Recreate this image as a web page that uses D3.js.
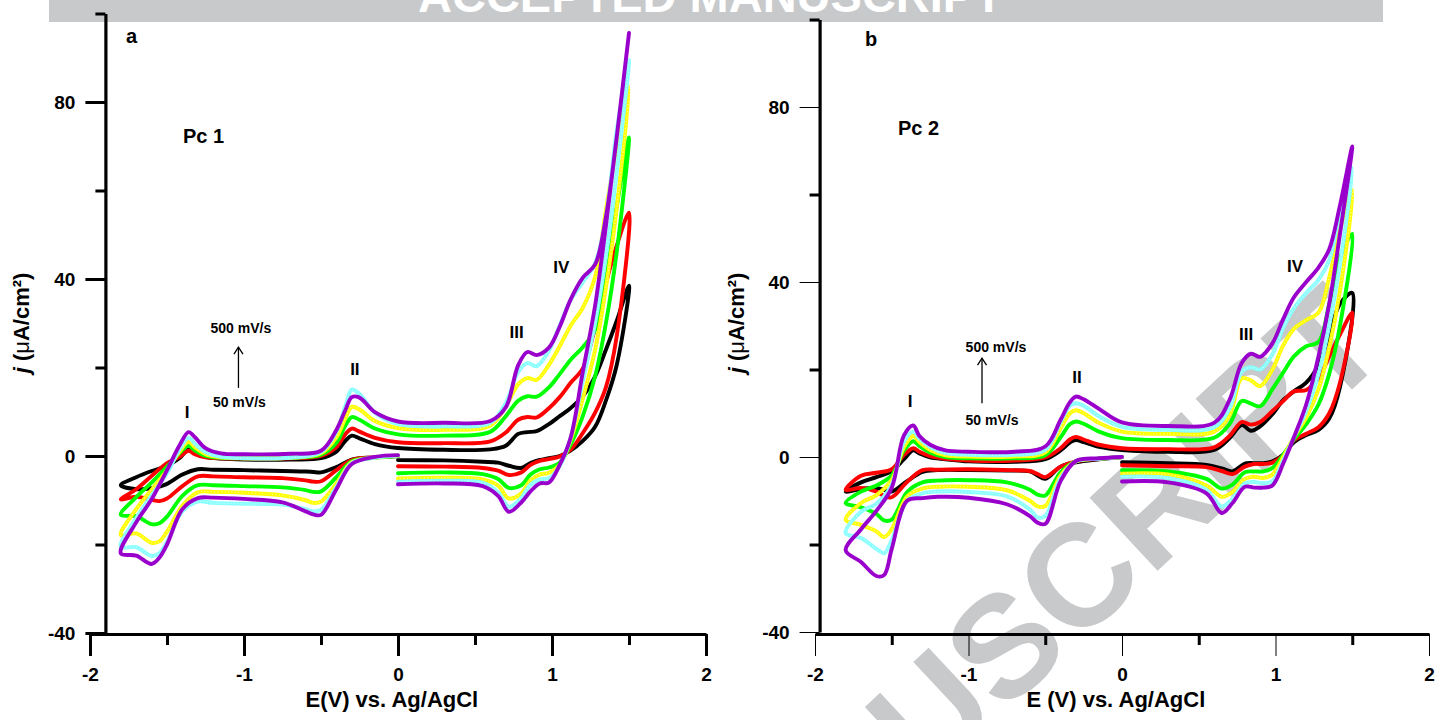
<!DOCTYPE html>
<html>
<head>
<meta charset="utf-8">
<script src="https://cdn.jsdelivr.net/npm/d3@7"></script>
<style>
  body { margin: 0; background: #fff; }
  svg text { font-family: "Liberation Sans", Arial, sans-serif; font-weight: bold; fill: #000; }
</style>
</head>
<body>
<div id="chart"></div>
<script>
// potential grid (V): 0 -> -1.8, then -1.7 -> +1.5, then back 1.42 -> 0
var NEG_OUT = [0, -0.15, -0.3, -0.4, -0.5, -0.55, -0.6, -0.75, -1.0, -1.2, -1.3, -1.4, -1.5, -1.55, -1.6, -1.7, -1.8];
var SWEEP_UP = [-1.7, -1.6, -1.5, -1.42, -1.36, -1.32, -1.25, -1.15, -1.0, -0.7, -0.5, -0.4, -0.34, -0.3, -0.25, -0.15, 0,
  0.3, 0.6, 0.7, 0.78, 0.84, 0.9, 0.98, 1.05, 1.12, 1.2, 1.28, 1.35, 1.42, 1.5];
var POS_BACK = [1.42, 1.35, 1.28, 1.2, 1.12, 1.05, 0.98, 0.92, 0.86, 0.8, 0.72, 0.65, 0.55, 0.3, 0];

// scan rates 50 -> 500 mV/s, one colour each
var SERIES_COLORS = ["#000000", "#ff0000", "#00ff00", "#ffff00", "#88ffff", "#9900cc"];
var TEXTURED = [false, false, false, true, true, false];

// Pc 1 current density (uA/cm2), [out, up, back]
var pc1Black = [
  [0, -0.3, -0.8, -2.5, -3.7, -3.6, -3.5, -3.4, -3.2, -3.1, -3.0, -4.2, -6.3, -6.9, -7.3, -7.5, -6.6],
  [-4.8, -3.4, -2.2, -0.5, 1.5, 0.9, -0.2, -0.6, -0.8, -0.8, -0.5, 1.0, 3.5, 4.6, 4.0, 2.7, 1.8, 1.4, 1.5, 2.3, 5.0, 5.4, 5.6, 7.2, 9.0, 10.8, 13.5, 18.0, 24.0, 30.5, 38.5],
  [20.5, 12.5, 6.6, 3.4, 1.2, 0.0, -0.5, -0.9, -1.6, -2.7, -2.2, -1.5, -1.3, -1.0, -0.9]];
var pc1Red = [
  [0, -0.3, -0.9, -3.2, -5.7, -5.8, -5.5, -5.0, -4.8, -4.6, -4.6, -6.8, -9.6, -10.2, -9.9, -9.2, -9.8],
  [-7.5, -4.5, -1.6, -0.2, 1.2, 0.4, -0.3, -0.5, -0.6, -0.5, 0.0, 2.0, 5.0, 6.2, 5.5, 4.1, 3.1, 2.9, 3.3, 5.3, 8.2, 8.8, 8.7, 10.8, 13.3, 16.5, 19.8, 29.0, 39.0, 47.5, 55.0],
  [27.0, 15.5, 9.8, 5.2, 1.4, -0.1, -0.7, -1.1, -2.0, -3.7, -4.3, -3.3, -2.7, -2.4, -2.3]];
var pc1Green = [
  [0, -0.4, -1.2, -4.8, -8.0, -8.1, -7.7, -7.1, -6.8, -6.6, -6.6, -9.0, -13.7, -15.2, -15.4, -13.6, -13.3],
  [-9.3, -6.0, -2.4, 0.6, 2.3, 1.3, 0.0, -0.4, -0.5, -0.4, 0.3, 3.0, 7.0, 8.8, 8.2, 6.2, 4.9, 4.6, 5.5, 9.0, 12.5, 13.5, 13.4, 15.5, 18.5, 21.7, 24.6, 28.5, 40.0, 56.3, 72.0],
  [46.0, 30.0, 18.0, 9.0, 2.5, -1.5, -2.6, -3.0, -4.2, -6.6, -7.2, -5.2, -4.1, -3.7, -3.9]];
var pc1Yellow = [
  [0.1, -0.4, -1.4, -6.2, -10.3, -10.6, -10.0, -8.9, -8.3, -8.1, -8.2, -11.2, -17.1, -19.3, -19.6, -17.5, -17.9],
  [-12.0, -7.6, -3.2, 0.9, 3.2, 2.0, 0.4, -0.3, -0.5, -0.4, 0.6, 4.2, 8.7, 11.1, 10.5, 7.9, 6.3, 5.9, 6.9, 11.2, 16.2, 17.6, 17.2, 20.6, 24.8, 29.4, 33.5, 40.5, 55.5, 69.8, 83.4],
  [56.0, 38.0, 24.0, 13.0, 3.5, -2.0, -3.8, -4.2, -5.5, -8.5, -9.6, -6.7, -5.3, -4.9, -5.1]];
var pc1Cyan = [
  [0.1, -0.4, -1.6, -7.0, -12.2, -12.5, -12.0, -11.0, -10.8, -10.6, -10.3, -12.5, -19.4, -22.0, -22.6, -20.6, -20.5],
  [-14.0, -8.9, -3.9, 1.4, 4.1, 2.8, 0.9, -0.2, -0.5, -0.4, 0.9, 5.5, 11.5, 15.0, 14.0, 9.8, 7.2, 6.7, 7.5, 12.0, 19.0, 21.0, 20.3, 23.8, 29.5, 35.2, 39.3, 43.5, 54.0, 73.5, 89.5],
  [64.0, 45.0, 30.0, 17.0, 4.0, -2.3, -5.0, -5.3, -6.5, -9.5, -11.5, -8.2, -6.0, -5.6, -5.8]];
var pc1Purple = [
  [0.2, -0.2, -1.8, -7.5, -13.3, -13.2, -12.5, -10.5, -9.7, -9.4, -9.5, -12.0, -20.0, -23.0, -24.4, -22.5, -22.0],
  [-15.0, -9.8, -3.2, 2.3, 5.4, 4.3, 1.8, 0.6, 0.4, 0.5, 1.2, 5.9, 10.5, 13.3, 13.2, 9.9, 7.8, 7.5, 7.9, 11.0, 20.5, 23.5, 22.8, 24.5, 29.2, 35.3, 40.3, 43.3, 54.0, 72.0, 95.6],
  [72.0, 52.0, 34.0, 19.0, 4.0, -2.0, -6.0, -6.2, -8.0, -10.5, -12.6, -9.0, -6.8, -6.2, -6.4]];

// Pc 2
var pc2Black = [
  [0, -0.5, -1.2, -2.2, -5.0, -4.2, -3.3, -3.1, -3.0, -3.0, -3.4, -5.5, -7.9, -7.5, -7.1, -7.3, -7.9],
  [-5.8, -4.6, -3.2, -0.5, 1.5, 0.8, -0.1, -0.5, -1.0, -1.1, -0.5, 1.5, 3.3, 3.9, 3.4, 2.3, 1.6, 1.2, 1.6, 4.3, 7.3, 6.0, 7.0, 9.8, 13.0, 15.0, 17.0, 21.0, 28.0, 35.0, 37.5],
  [16.0, 8.8, 6.2, 5.0, 3.4, 0.5, -1.0, -1.4, -1.4, -1.5, -3.3, -2.6, -1.8, -1.4, -1.2]];
var pc2Red = [
  [0, -0.4, -1.0, -2.2, -4.6, -3.9, -3.2, -3.0, -2.8, -2.9, -3.0, -5.7, -9.2, -8.9, -7.9, -7.1, -7.5],
  [-4.3, -3.6, -2.8, 0.5, 2.0, 1.2, 0.2, -0.4, -0.8, -0.8, -0.1, 2.0, 4.0, 4.6, 4.0, 2.8, 2.0, 1.8, 2.2, 4.8, 8.0, 7.4, 8.0, 10.5, 12.8, 15.0, 15.3, 18.0, 23.0, 28.0, 33.0],
  [17.0, 10.0, 6.8, 5.3, 3.8, 0.4, -1.3, -1.6, -1.6, -2.2, -3.9, -3.2, -2.3, -2.1, -1.9]];
var pc2Green = [
  [0, -0.4, -1.0, -3.5, -8.8, -8.6, -7.5, -5.8, -5.3, -5.4, -5.8, -8.0, -14.3, -14.5, -13.0, -11.5, -10.5],
  [-7.9, -6.5, -4.2, 1.5, 3.6, 2.5, 1.0, 0.0, -0.3, -0.3, 0.4, 4.5, 7.5, 8.1, 7.6, 5.8, 4.3, 3.9, 4.4, 7.5, 12.8, 12.2, 11.6, 15.5, 19.3, 23.0, 25.3, 26.3, 35.0, 45.5, 51.0],
  [30.0, 19.0, 12.0, 7.5, 4.0, 0.5, -2.5, -3.3, -3.3, -3.5, -6.3, -7.2, -5.0, -3.3, -3.0]];
var pc2Yellow = [
  [0, -0.4, -1.0, -4.2, -11.2, -11.3, -10.0, -7.6, -6.8, -6.8, -7.2, -9.0, -16.5, -18.3, -17.0, -15.5, -14.4],
  [-10.5, -8.7, -5.2, 2.3, 4.8, 3.4, 1.6, 0.4, 0.1, 0.1, 1.0, 6.5, 10.0, 10.7, 10.0, 7.8, 5.8, 5.3, 5.8, 9.5, 18.0, 17.5, 16.2, 20.0, 25.5, 29.3, 31.3, 33.0, 41.0, 52.0, 61.0],
  [38.0, 25.0, 15.5, 9.0, 4.5, 0.0, -4.0, -4.8, -4.5, -5.0, -8.0, -9.1, -6.5, -4.0, -3.8]];
var pc2Cyan = [
  [0, -0.4, -1.0, -4.8, -13.5, -13.8, -12.0, -9.0, -8.0, -7.9, -8.3, -10.0, -19.0, -22.0, -21.0, -18.5, -17.4],
  [-12.5, -10.7, -6.3, 3.5, 5.8, 4.2, 2.3, 0.9, 0.5, 0.5, 1.6, 8.0, 11.7, 12.3, 11.7, 9.3, 6.9, 6.2, 6.8, 11.0, 19.5, 20.5, 20.0, 23.5, 29.5, 34.0, 37.5, 40.5, 45.0, 56.0, 66.0],
  [44.0, 30.0, 19.0, 10.5, 4.5, -0.8, -5.5, -6.0, -5.7, -6.0, -9.5, -11.3, -7.5, -4.8, -4.5]];
var pc2Purple = [
  [0, -0.3, -0.9, -5.5, -15.3, -15.0, -13.5, -10.8, -9.3, -9.1, -9.4, -10.0, -21.0, -27.0, -27.2, -24.0, -21.3],
  [-16.5, -12.3, -7.0, 5.0, 7.2, 4.8, 2.8, 1.5, 1.2, 1.2, 2.4, 8.5, 12.5, 13.8, 13.2, 11.0, 7.9, 7.1, 7.8, 13.0, 21.5, 23.6, 22.9, 26.0, 31.5, 36.5, 40.0, 43.3, 47.5, 57.5, 71.0],
  [51.0, 35.0, 23.0, 12.0, 4.5, -1.5, -6.5, -7.0, -7.0, -6.8, -10.5, -12.8, -8.3, -5.8, -5.6]];

// axis ticks
var X_MAJOR = [-2, -1, 0, 1, 2];
var X_MINOR = [-1.5, -0.5, 0.5, 1.5];
var Y_MAJOR = [-40, 0, 40, 80];
var Y_MINOR = [-20, 20, 60, 100];

var PEAK_NAMES = ["I", "II", "III", "IV"];

var svg = d3.select("#chart").append("svg")
    .attr("width", 1437)
    .attr("height", 720);

// journal watermark + banner (behind everything)
svg.append("rect")
    .attr("x", 49).attr("y", 0)
    .attr("width", 1334).attr("height", 22)
    .attr("fill", "#c8c9cb");
svg.append("text")
    .attr("x", 418).attr("y", 12)
    .attr("font-size", "47px")
    .style("fill", "#fff")
    .text("ACCEPTED MANUSCRIPT");
svg.append("text")
    .attr("transform", "translate(1392,352) rotate(-43)")
    .attr("text-anchor", "end")
    .attr("font-size", "145px")
    .style("fill", "#c8c9cb")
    .text("ACCEPTED MANUSCRIPT");

var panels = [
    {
        x: d3.scaleLinear().domain([-2, 2]).range([90, 706]),
        y: d3.scaleLinear().domain([-40, 100]).range([633, 13.5]),
        yAxisAt: -1.9, thinMajor: false,
        series: [pc1Black, pc1Red, pc1Green, pc1Yellow, pc1Cyan, pc1Purple],
        tag: "a", name: "Pc 1", xTitle: "E(V) vs. Ag/AgCl", xTitleAt: -0.04,
        tagPos: [-1.766, 93.3], namePos: [-1.396, 70.7],
        peaks: [[-1.37, 8.6], [-0.28, 18.3], [0.77, 26.7], [1.06, 41.4]],
        rate: { hi: [-1.02, 27.8], lo: [-1.03, 11.1], arrowE: -1.036, arrowJ: [15.4, 24.6] },
        yTitleX: 29
    },
    {
        x: d3.scaleLinear().domain([-2, 2]).range([815, 1429]),
        y: d3.scaleLinear().domain([-40, 100]).range([632, 19.5]),
        yAxisAt: -1.97, thinMajor: true,
        series: [pc2Black, pc2Red, pc2Green, pc2Yellow, pc2Cyan, pc2Purple],
        tag: "b", name: "Pc 2", xTitle: "E (V) vs. Ag/AgCl", xTitleAt: -0.04,
        tagPos: [-1.674, 93.9], namePos: [-1.459, 73.6],
        peaks: [[-1.381, 11.4], [-0.293, 16.9], [0.808, 26.7], [1.127, 42.3]],
        rate: { hi: [-0.821, 24], lo: [-0.847, 7.3], arrowE: -0.912, arrowJ: [12.3, 22.6] },
        yTitleX: 744
    }
];

panels.forEach(function (p) {
    var x = p.x, y = p.y;
    var line = d3.line()
        .x(function (d) { return x(d[0]); })
        .y(function (d) { return y(d[1]); })
        .curve(d3.curveCatmullRom.alpha(0.5));

    // CV curves
    p.series.forEach(function (s, k) {
        var pts = [];
        s[0].forEach(function (j, i) { pts.push([NEG_OUT[i], j]); });
        s[1].forEach(function (j, i) { pts.push([SWEEP_UP[i], j]); });
        s[2].forEach(function (j, i) { pts.push([POS_BACK[i], j]); });
        svg.append("path")
            .attr("d", line(pts))
            .attr("fill", "none")
            .attr("stroke", SERIES_COLORS[k])
            .attr("stroke-width", 3.9)
            .attr("stroke-linejoin", "round")
            .attr("stroke-linecap", "round");
        if (TEXTURED[k]) {
            svg.append("path")
                .attr("d", line(pts))
                .attr("fill", "none")
                .attr("stroke", "#fff")
                .attr("stroke-opacity", 0.55)
                .attr("stroke-width", 1.2)
                .attr("stroke-dasharray", "1.2,2.2");
        }
    });

    // y axis
    var ax = x(p.yAxisAt);
    var gy = svg.append("g").attr("transform", "translate(" + ax + ",0)");
    gy.call(d3.axisLeft(y).tickValues(Y_MAJOR).tickSize(20).tickSizeOuter(0).tickPadding(10)
        .tickFormat(function (d) { return String(d); }));
    gy.select(".domain").attr("stroke", "#000").attr("stroke-width", 3.2);
    gy.selectAll(".tick line").attr("stroke", "#000").attr("stroke-width", p.thinMajor ? 1 : 3);
    gy.selectAll(".tick text").attr("font-size", "19px").attr("font-family", null);
    var gy2 = svg.append("g").attr("transform", "translate(" + ax + ",0)");
    gy2.call(d3.axisLeft(y).tickValues(Y_MINOR).tickSize(10).tickSizeOuter(0).tickFormat(""));
    gy2.select(".domain").remove();
    gy2.selectAll(".tick line").attr("stroke", "#000").attr("stroke-width", 3);

    // x axis
    var gx = svg.append("g").attr("transform", "translate(0,634)");
    gx.call(d3.axisBottom(x).tickValues(X_MAJOR).tickSize(22).tickSizeOuter(0).tickPadding(12)
        .tickFormat(function (d) { return String(d); }));
    gx.select(".domain").attr("stroke", "#000").attr("stroke-width", 3.2);
    gx.selectAll(".tick line").attr("stroke", "#000").attr("stroke-width", p.thinMajor ? 1 : 3);
    gx.selectAll(".tick text").attr("font-size", "19px").attr("font-family", null);
    var gx2 = svg.append("g").attr("transform", "translate(0,634)");
    gx2.call(d3.axisBottom(x).tickValues(X_MINOR).tickSize(11).tickSizeOuter(0).tickFormat(""));
    gx2.select(".domain").remove();
    gx2.selectAll(".tick line").attr("stroke", "#000").attr("stroke-width", 3);

    // axis titles
    svg.append("text")
        .attr("x", x(p.xTitleAt)).attr("y", 707)
        .attr("text-anchor", "middle")
        .attr("font-size", "22px")
        .text(p.xTitle);
    var yt = svg.append("text")
        .attr("transform", "translate(" + p.yTitleX + ",323) rotate(-90)")
        .attr("text-anchor", "middle")
        .attr("font-size", "22px");
    yt.append("tspan").attr("font-style", "italic").text("j");
    yt.append("tspan").text(" (");
    yt.append("tspan").attr("font-weight", "normal").text("\u03bc");
    yt.append("tspan").text("A/cm\u00b2)");

    // panel letters and compound names
    svg.append("text")
        .attr("x", x(p.tagPos[0])).attr("y", y(p.tagPos[1]))
        .attr("font-size", "20px").text(p.tag);
    svg.append("text")
        .attr("x", x(p.namePos[0])).attr("y", y(p.namePos[1]))
        .attr("font-size", "20px").text(p.name);

    // peak labels
    p.peaks.forEach(function (pk, i) {
        svg.append("text")
            .attr("x", x(pk[0])).attr("y", y(pk[1]))
            .attr("text-anchor", "middle")
            .attr("font-size", "17px")
            .text(PEAK_NAMES[i]);
    });

    // scan-rate arrow
    svg.append("text")
        .attr("x", x(p.rate.hi[0])).attr("y", y(p.rate.hi[1]))
        .attr("text-anchor", "middle").attr("font-size", "14px")
        .text("500 mV/s");
    svg.append("text")
        .attr("x", x(p.rate.lo[0])).attr("y", y(p.rate.lo[1]))
        .attr("text-anchor", "middle").attr("font-size", "14px")
        .text("50 mV/s");
    var axr = x(p.rate.arrowE), yTop = y(p.rate.arrowJ[1]), yBot = y(p.rate.arrowJ[0]);
    svg.append("line")
        .attr("x1", axr).attr("x2", axr)
        .attr("y1", yBot).attr("y2", yTop)
        .attr("stroke", "#000").attr("stroke-width", 1.3);
    svg.append("path")
        .attr("d", "M" + (axr - 4.5) + "," + (yTop + 7) + "L" + axr + "," + yTop + "L" + (axr + 4.5) + "," + (yTop + 7))
        .attr("fill", "none").attr("stroke", "#000").attr("stroke-width", 1.3);
});
</script>
</body>
</html>
